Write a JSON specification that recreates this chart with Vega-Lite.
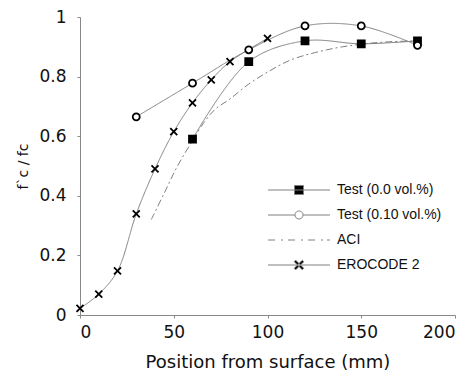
{
  "$schema": "https://vega.github.io/schema/vega-lite/v6.json",
  "width": 375,
  "height": 298,
  "autosize": "none",
  "padding": {"left": 80, "top": 17, "right": 16, "bottom": 67},
  "background": "white",
  "config": {
    "view": {"stroke": null},
    "axis": {"grid": false, "domainColor": "#888", "tickColor": "#888", "labelFont": "DejaVu Sans", "labelFontSize": 17, "labelColor": "#111", "titleColor": "#111", "titleFontWeight": "normal"}
  },
  "data": {
    "values": [
      {"series": "Test (0.0 vol.%)", "x": 60, "y": 0.59},
      {"series": "Test (0.0 vol.%)", "x": 90, "y": 0.85},
      {"series": "Test (0.0 vol.%)", "x": 120, "y": 0.92},
      {"series": "Test (0.0 vol.%)", "x": 150, "y": 0.91},
      {"series": "Test (0.0 vol.%)", "x": 180, "y": 0.92},
      {"series": "Test (0.10 vol.%)", "x": 30, "y": 0.665},
      {"series": "Test (0.10 vol.%)", "x": 60, "y": 0.778},
      {"series": "Test (0.10 vol.%)", "x": 90, "y": 0.89},
      {"series": "Test (0.10 vol.%)", "x": 120, "y": 0.97},
      {"series": "Test (0.10 vol.%)", "x": 150, "y": 0.97},
      {"series": "Test (0.10 vol.%)", "x": 180, "y": 0.905},
      {"series": "ACI", "x": 38, "y": 0.32},
      {"series": "ACI", "x": 45, "y": 0.41},
      {"series": "ACI", "x": 52, "y": 0.5},
      {"series": "ACI", "x": 60, "y": 0.585},
      {"series": "ACI", "x": 66, "y": 0.645},
      {"series": "ACI", "x": 72, "y": 0.69},
      {"series": "ACI", "x": 80, "y": 0.725},
      {"series": "ACI", "x": 90, "y": 0.775},
      {"series": "ACI", "x": 100, "y": 0.815},
      {"series": "ACI", "x": 112, "y": 0.855},
      {"series": "ACI", "x": 125, "y": 0.88},
      {"series": "ACI", "x": 140, "y": 0.9},
      {"series": "ACI", "x": 160, "y": 0.915},
      {"series": "ACI", "x": 180, "y": 0.92},
      {"series": "EROCODE 2", "x": 0, "y": 0.022},
      {"series": "EROCODE 2", "x": 10, "y": 0.07},
      {"series": "EROCODE 2", "x": 20, "y": 0.148},
      {"series": "EROCODE 2", "x": 30, "y": 0.339},
      {"series": "EROCODE 2", "x": 40, "y": 0.49},
      {"series": "EROCODE 2", "x": 50, "y": 0.615},
      {"series": "EROCODE 2", "x": 60, "y": 0.712},
      {"series": "EROCODE 2", "x": 70, "y": 0.789},
      {"series": "EROCODE 2", "x": 80, "y": 0.85},
      {"series": "EROCODE 2", "x": 100, "y": 0.928}
    ]
  },
  "encoding": {
    "x": {"field": "x", "type": "quantitative", "scale": {"domain": [0, 200], "nice": false},
      "axis": {"values": [0, 50, 100, 150, 200], "title": "Position from surface (mm)", "titleFont": "DejaVu Sans", "titleFontSize": 18, "titlePadding": 13, "labelPadding": 6, "tickSize": 3}},
    "y": {"field": "y", "type": "quantitative", "scale": {"domain": [0, 1], "nice": false},
      "axis": {"values": [0, 0.2, 0.4, 0.6, 0.8, 1], "format": "~g", "title": "f`c / fc", "titleFont": "DejaVu Sans", "titleFontSize": 14, "titlePadding": 8, "labelPadding": 11, "tickSize": 3}}
  },
  "layer": [
    {
      "mark": {"type": "line", "strokeWidth": 1, "interpolate": "catmull-rom"},
      "encoding": {
        "color": {"field": "series", "type": "nominal",
          "scale": {"domain": ["Test (0.0 vol.%)", "Test (0.10 vol.%)", "ACI", "EROCODE 2"], "range": ["#808080", "#808080", "#808080", "#808080"]},
          "legend": {
            "title": null, "orient": "none", "legendX": 212, "legendY": 166, "padding": 0,
            "labelFont": "Liberation Sans", "labelFontSize": 14, "labelColor": "#111", "labelOffset": 31,
            "symbolSize": 100, "symbolStrokeWidth": 1, "rowPadding": 11,
            "encode": {"symbols": {"update": {
              "shape": {"signal": "datum.value === 'Test (0.0 vol.%)' ? 'M-6.2,0H6.2M-0.9,-0.9H0.9V0.9H-0.9Z' : datum.value === 'Test (0.10 vol.%)' ? 'M-6.2,0H-0.8M0.8,0H6.2M-0.8,0A0.8,0.8 0 1,0 0.8,0A0.8,0.8 0 1,0 -0.8,0Z' : datum.value === 'ACI' ? 'M-6.2,0H-4.6M-3.6,0H-3.2M-2.2,0H-0.6M0.4,0H0.8M1.8,0H3.4M4.4,0H4.8M5.6,0H6.2' : 'M-6.2,0H6.2M-0.95,-0.65L-0.65,-0.95L0.95,0.65L0.65,0.95ZM-0.95,0.65L-0.65,0.95L0.95,-0.65L0.65,-0.95Z'"},
              "fill": {"signal": "datum.value === 'Test (0.10 vol.%)' ? 'white' : datum.value === 'ACI' ? 'transparent' : 'black'"},
              "stroke": {"value": "#555"},
              "strokeWidth": {"value": 1},
              "strokeDash": {"value": [1, 0]},
              "opacity": {"value": 1}
            }}}
          }},
        "strokeDash": {"field": "series", "type": "nominal",
          "scale": {"domain": ["Test (0.0 vol.%)", "Test (0.10 vol.%)", "ACI", "EROCODE 2"], "range": [[1, 0], [1, 0], [7, 3, 2, 3], [1, 0]]},
          "legend": null}
      }
    },
    {
      "transform": [{"filter": "datum.series !== 'ACI'"}],
      "mark": {"type": "point", "filled": true, "stroke": "black", "strokeWidth": 1.8, "size": 49, "opacity": 1},
      "encoding": {
        "shape": {"field": "series", "type": "nominal",
          "scale": {"domain": ["Test (0.0 vol.%)", "Test (0.10 vol.%)", "EROCODE 2"], "range": ["square", "circle", "M-1,-1L1,1M-1,1L1,-1"]},
          "legend": null},
        "fill": {"field": "series", "type": "nominal",
          "scale": {"domain": ["Test (0.0 vol.%)", "Test (0.10 vol.%)", "EROCODE 2"], "range": ["black", "white", "black"]},
          "legend": null}
      }
    }
  ]
}
